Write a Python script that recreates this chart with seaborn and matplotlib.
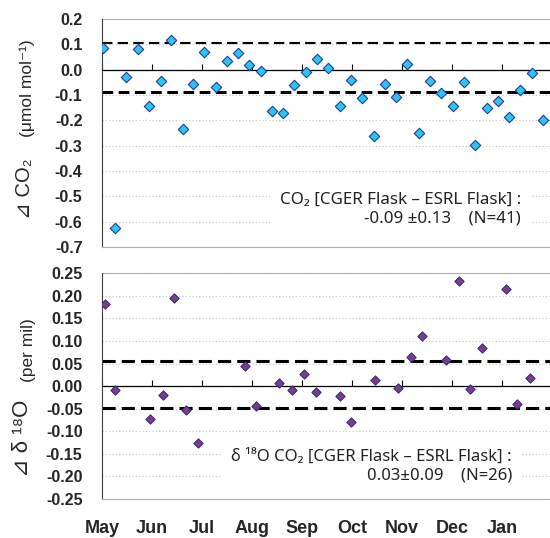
import numpy as np
import seaborn as sns
import matplotlib.pyplot as plt

# x = month position of each flask pair (0 = start of May, 1 = start of Jun, ...)
co2_month = [0.02, 0.26, 0.47, 0.71, 0.94, 1.17, 1.38, 1.61, 1.81, 2.04,
             2.27, 2.49, 2.72, 2.93, 3.17, 3.39, 3.61, 3.84, 4.07, 4.30,
             4.52, 4.75, 4.97, 5.20, 5.43, 5.65, 5.87, 6.09, 6.33, 6.56,
             6.78, 7.01, 7.23, 7.46, 7.69, 7.91, 8.13, 8.36, 8.59, 8.81]
co2_diff = [0.086, -0.625, -0.030, 0.082, -0.145, -0.047, 0.118, -0.235, -0.058, 0.068,
            -0.070, 0.032, 0.065, 0.016, -0.004, -0.163, -0.170, -0.062, -0.008, 0.041,
            0.005, -0.145, -0.043, -0.112, -0.262, -0.057, -0.107, 0.020, -0.249, -0.047,
            -0.094, -0.142, -0.051, -0.298, -0.150, -0.123, -0.186, -0.082, -0.012, -0.199]

d18o_month = [0.05, 0.26, 0.96, 1.21, 1.43, 1.68, 1.91, 2.85, 3.07, 3.53,
              3.79, 4.03, 4.27, 4.75, 4.97, 5.45, 5.92, 6.17, 6.39, 6.87,
              7.13, 7.35, 7.59, 8.07, 8.30, 8.55]
d18o_diff = [0.183, -0.009, -0.072, -0.019, 0.196, -0.053, -0.127, 0.045, -0.044, 0.006,
             -0.008, 0.026, -0.012, -0.021, -0.079, 0.014, -0.003, 0.065, 0.110, 0.059,
             0.232, -0.007, 0.084, 0.216, -0.039, 0.019]

months = ['May', 'Jun', 'Jul', 'Aug', 'Sep', 'Oct', 'Nov', 'Dec', 'Jan']
co2_band = [0.104, -0.087]
d18o_band = [0.056, -0.049]
co2_yticks = np.round(np.arange(-0.7, 0.201, 0.1), 2)
d18o_yticks = np.round(np.arange(-0.25, 0.251, 0.05), 2)

sns.set_style('white')
plt.rcParams['font.family'] = ['Liberation Sans', 'DejaVu Sans']

fig = plt.figure(figsize=(5.5, 5.38), dpi=100)
ax1 = fig.add_axes([0.1855, 0.541, 0.8145, 0.424])
ax2 = fig.add_axes([0.1855, 0.0725, 0.8145, 0.4195])


def style_panel(ax, yticks, fmt):
    lo, hi = yticks[0], yticks[-1]
    ax.set_xlim(0, 8.96)
    ax.set_ylim(lo, hi)
    ax.set_yticks(yticks)
    ax.set_yticklabels([fmt.format(v + 0.0) for v in yticks],
                       fontweight='bold', fontsize=11.5)
    ax.tick_params(axis='y', length=0, pad=14)
    ax.yaxis.grid(True, ls=(0, (1, 2)), color='#c4c4c4', lw=0.8)
    ax.xaxis.grid(False)
    ax.set_axisbelow(True)
    ax.set_xlabel('')
    ax.set_ylabel('')
    ax.spines['bottom'].set_color('#b0b0b0')
    ax.spines['left'].set_color('#404040')
    ax.spines['right'].set_visible(False)
    # the top spine becomes the zero line, month ticks pointing up
    ax.spines['top'].set_position(('data', 0))
    ax.spines['top'].set_color('black')
    ax.spines['top'].set_linewidth(0.9)
    ax.spines['top'].set_zorder(3)
    ax.axhline(hi, color='#b0b0b0', lw=0.8, clip_on=False, zorder=1)
    ax.set_xticks(range(len(months)))
    ax.tick_params(axis='x', top=True, bottom=False, direction='out',
                   length=4, width=0.8, color='black', labeltop=False)


sns.scatterplot(x=co2_month, y=co2_diff, ax=ax1, marker='D', s=28,
                color='#2ec4f2', edgecolor='#1f3c99', linewidth=0.8, zorder=4)
ax1.axhline(co2_band[0], color='black', lw=1.5, dashes=(5, 2.5), zorder=2)
ax1.axhline(co2_band[1], color='black', lw=2.2, dashes=(3.5, 1.8), zorder=2)
style_panel(ax1, co2_yticks, '{:.1f}')
ax1.tick_params(axis='x', labelbottom=False)

sns.scatterplot(x=d18o_month, y=d18o_diff, ax=ax2, marker='D', s=22,
                color='#7b3f7f', edgecolor='#3b2a8c', linewidth=0.8, zorder=4)
for v in d18o_band:
    ax2.axhline(v, color='black', lw=2.2, dashes=(4.3, 2), zorder=2)
style_panel(ax2, d18o_yticks, '{:.2f}')
ax2.set_xticklabels(months, fontweight='bold', fontsize=13)
ax2.tick_params(axis='x', labelbottom=True, pad=11)

# axis titles
ax1.text(-0.172, 0.254, '⊿ CO₂', rotation=90, ha='center', va='center', fontsize=14.5,
         transform=ax1.transAxes)
ax1.text(-0.168, 0.697, '(μmol mol⁻¹)', rotation=90, ha='center', va='center',
         fontsize=12.5, transform=ax1.transAxes)
ax2.text(-0.178, 0.27, '⊿ δ ¹⁸O', rotation=90, ha='center', va='center', fontsize=16,
         transform=ax2.transAxes)
ax2.text(-0.165, 0.66, '(per mil)', rotation=90, ha='center', va='center',
         fontsize=12.5, transform=ax2.transAxes)

# summary boxes
box = dict(boxstyle='square,pad=0.6', fc='white', ec='none')
ax1.text(0.397, 0.167, 'CO₂ [CGER Flask – ESRL Flask] :\n-0.09 ±0.13    (N=41)',
         ha='left', va='center', multialignment='right', fontsize=12.2,
         family=['Noto Sans', 'DejaVu Sans'], color='#222222', linespacing=1.25,
         bbox=box, transform=ax1.transAxes, zorder=5)
ax2.text(0.289, 0.146, 'δ ¹⁸O CO₂ [CGER Flask – ESRL Flask] :\n0.03±0.09    (N=26)',
         ha='left', va='center', multialignment='right', fontsize=12.0,
         family=['Noto Sans', 'DejaVu Sans'], color='#222222', linespacing=1.25,
         bbox=box, transform=ax2.transAxes, zorder=5)

fig.savefig('out.png', dpi=100)
